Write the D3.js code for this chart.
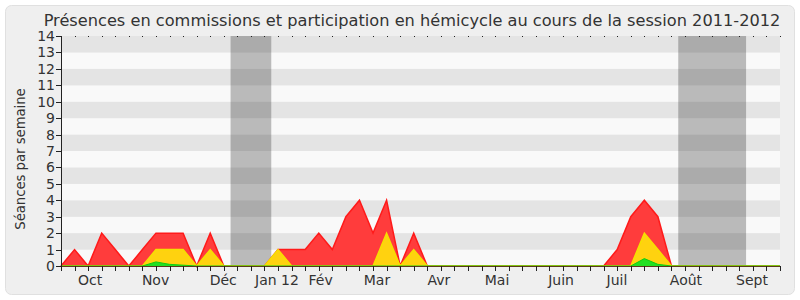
<!DOCTYPE html>
<html>
<head>
<meta charset="utf-8">
<script src="https://cdn.jsdelivr.net/npm/d3@7"></script>
<style>
body { margin: 0; background: #fff; }
text { font-family: "DejaVu Sans", Verdana, sans-serif; fill: #333; }
</style>
</head>
<body>
<svg width="800" height="300"></svg>
<script>
// one value per week, from the first week of the session (index 0) to the last (53)
var totalSeances = [0, 1, 0, 2, 1, 0, 1, 2, 2, 2, 0, 2, 0, 0, 0, 0, 1, 1, 1, 2, 1, 3, 4, 2, 4, 0, 2, 0,
    0, 0, 0, 0, 0, 0, 0, 0, 0, 0, 0, 0, 0,
    1, 3, 4, 3, 0,
    0, 0, 0, 0, 0, 0, 0, 0];
var hemicycle = [0, 0, 0, 0, 0, 0, 0, 1, 1, 1, 0, 1, 0, 0, 0, 0, 1, 0, 0, 0, 0, 0, 0, 0, 2, 0, 1, 0,
    0, 0, 0, 0, 0, 0, 0, 0, 0, 0, 0, 0, 0,
    0, 0, 2, 1, 0,
    0, 0, 0, 0, 0, 0, 0, 0];
var commissions = [0, 0, 0, 0, 0, 0, 0, 0.25, 0.1, 0.05, 0, 0, 0, 0, 0, 0, 0, 0, 0, 0, 0, 0, 0, 0, 0, 0, 0, 0,
    0, 0, 0, 0, 0, 0, 0, 0, 0, 0, 0, 0, 0,
    0, 0, 0.45, 0.1, 0,
    0, 0, 0, 0, 0, 0, 0, 0];
var monthLabels = ['Oct', 'Nov', 'Déc', 'Jan 12', 'Fév', 'Mar', 'Avr', 'Mai', 'Juin', 'Juil', 'Août', 'Sept'];
var monthPos = [2.14, 6.97, 11.96, 15.92, 19.14, 23.29, 27.86, 32.14, 36.86, 40.98, 46.07, 50.94];
var vacances = [[12.5, 15.5], [45.5, 50.5]];
var yTicks = d3.range(0, 15);

function draw() {
    var svg = d3.select('svg');
    var left = 61, right = 780, top = 36, bottom = 266;
    var nWeeks = totalSeances.length;

    svg.append('rect')
        .attr('x', 5.5).attr('y', 5.5)
        .attr('width', 789).attr('height', 289)
        .attr('rx', 6)
        .attr('fill', '#efefef')
        .attr('stroke', '#e0e0e0');

    var x = d3.scaleLinear().domain([0, nWeeks - 1]).range([left, right]);
    var y = d3.scaleLinear().domain([0, 14]).range([bottom, top]);

    // horizontal stripes
    svg.selectAll('.stripe').data(d3.range(0, 14))
        .enter().append('rect')
        .attr('class', 'stripe')
        .attr('x', left)
        .attr('width', right - left)
        .attr('y', function (d) { return y(d + 1); })
        .attr('height', function (d) { return y(d) - y(d + 1); })
        .attr('fill', function (d) { return d % 2 === 1 ? '#e4e4e4' : '#f9f9f9'; });

    // holidays
    svg.selectAll('.vac').data(vacances)
        .enter().append('rect')
        .attr('class', 'vac')
        .attr('x', function (d) { return x(d[0]); })
        .attr('width', function (d) { return x(d[1]) - x(d[0]); })
        .attr('y', top)
        .attr('height', bottom - top)
        .attr('fill', 'rgba(0,0,0,0.25)');

    var area = function (values) {
        return d3.area()
            .x(function (d, i) { return x(i); })
            .y0(y(0))
            .y1(function (d) { return y(d); })(values);
    };
    var line = function (values) {
        return d3.line()
            .x(function (d, i) { return x(i); })
            .y(function (d) { return y(d); })(values);
    };

    svg.append('path').attr('d', area(totalSeances)).attr('fill', '#ff3c3c');
    svg.append('path').attr('d', line(totalSeances)).attr('fill', 'none').attr('stroke', '#ff1a1a').attr('stroke-width', 1.5);
    svg.append('path').attr('d', area(hemicycle)).attr('fill', '#ffd20f');
    svg.append('path').attr('d', line(hemicycle)).attr('fill', 'none').attr('stroke', '#f5e000').attr('stroke-width', 1.5);
    svg.append('path').attr('d', area(commissions)).attr('fill', '#22e022');
    svg.append('path').attr('d', line(commissions)).attr('fill', 'none').attr('stroke', '#11cc11').attr('stroke-width', 1);

    // top dotted line
    svg.selectAll('.dot').data(d3.range(0, nWeeks))
        .enter().append('rect')
        .attr('class', 'dot')
        .attr('x', function (d) { return Math.round(x(d)); })
        .attr('y', top)
        .attr('width', 1).attr('height', 1)
        .attr('fill', '#222');

    // x axis
    var xAxis = svg.append('g').attr('transform', 'translate(0,' + bottom + ')');
    xAxis.append('line').attr('x1', left).attr('x2', right).attr('y1', 0.5).attr('y2', 0.5)
        .attr('stroke', '#5a3a1a');
    xAxis.selectAll('.xt').data(d3.range(0, nWeeks))
        .enter().append('line')
        .attr('class', 'xt')
        .attr('x1', function (d) { return Math.round(x(d)) + 0.5; })
        .attr('x2', function (d) { return Math.round(x(d)) + 0.5; })
        .attr('y1', 0).attr('y2', 5)
        .attr('stroke', '#222');
    xAxis.selectAll('.xl').data(monthLabels)
        .enter().append('text')
        .attr('class', 'xl')
        .attr('x', function (d, i) { return x(monthPos[i]); })
        .attr('y', 18.5)
        .attr('text-anchor', 'middle')
        .attr('font-size', 14)
        .text(function (d) { return d; });

    // y axis
    var yAxis = svg.append('g').attr('transform', 'translate(' + left + ',0)');
    yAxis.append('line').attr('x1', 0.5).attr('x2', 0.5).attr('y1', top).attr('y2', bottom)
        .attr('stroke', '#222');
    yAxis.selectAll('.yt').data(yTicks)
        .enter().append('line')
        .attr('class', 'yt')
        .attr('x1', -5).attr('x2', 0)
        .attr('y1', function (d) { return Math.round(y(d)) + 0.5; })
        .attr('y2', function (d) { return Math.round(y(d)) + 0.5; })
        .attr('stroke', '#222');
    yAxis.selectAll('.yl').data(yTicks)
        .enter().append('text')
        .attr('class', 'yl')
        .attr('x', -6)
        .attr('y', function (d) { return y(d); })
        .attr('dy', '0.36em')
        .attr('text-anchor', 'end')
        .attr('font-size', 14)
        .text(function (d) { return d; });

    svg.append('text')
        .attr('transform', 'translate(25,159) rotate(-90)')
        .attr('text-anchor', 'middle')
        .attr('font-size', 13.2)
        .text('Séances par semaine');

    svg.append('text')
        .attr('x', 412)
        .attr('y', 25.5)
        .attr('text-anchor', 'middle')
        .attr('font-size', 16.2)
        .text('Présences en commissions et participation en hémicycle au cours de la session 2011-2012');
}
draw();
</script>
</body>
</html>
